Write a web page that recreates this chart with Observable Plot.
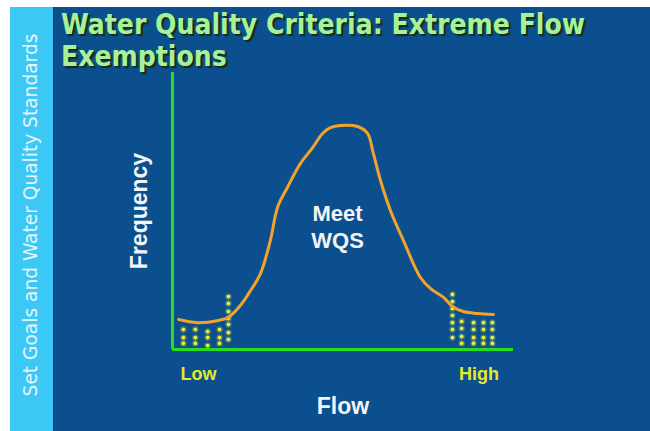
<!DOCTYPE html>
<html>
<head>
<meta charset="utf-8">
<script src="https://cdn.jsdelivr.net/npm/d3@7"></script>
<script src="https://cdn.jsdelivr.net/npm/@observablehq/plot@0.6"></script>
<style>
  html, body { margin: 0; padding: 0; background: #ffffff; }
  #wrap { position: relative; width: 650px; height: 431px; overflow: hidden; background: #ffffff; }
  .strip { position: absolute; left: 10px; top: 7px; width: 43px; height: 424px; background: #3cc8f4; }
  .panel { position: absolute; left: 53px; top: 7px; width: 597px; height: 424px; background: #0b4f8e; border-left: 1px solid #0a3f74; box-sizing: border-box; }
  .stripText { position: absolute; left: 30px; top: 215px; transform: translate(-50%, -50%) rotate(-90deg); white-space: nowrap;
    font-family: "DejaVu Sans", Verdana, sans-serif; font-size: 18.6px; color: #e4f5ff; }
  .title { position: absolute; left: 61px; top: 9px; font-family: "DejaVu Sans Condensed", "DejaVu Sans", sans-serif; font-stretch: condensed;
    font-weight: bold; font-size: 28px; line-height: 32px; color: #a6f29a; text-shadow: 2px 2px 1px #1b2b12; white-space: nowrap; }
  #chart { position: absolute; left: 0; top: 0; }
  #chart svg { background: transparent; }
</style>
</head>
<body>
<div id="wrap">
  <div class="strip"></div>
  <div class="panel"></div>
  <div class="stripText">Set Goals and Water Quality Standards</div>
  <div class="title">Water Quality Criteria: Extreme Flow<br>Exemptions</div>
  <div id="chart"></div>
</div>
<script>
// Axis domains (relative flow and frequency)
const flowDomain = [0, 100];
const freqDomain = [0, 100];

// Frequency distribution curve
const curveFlow = [1.8, 7.3, 13.5, 16.4, 19.9, 22.9, 25.8, 28.7, 30.8, 33.7, 37.5, 41.1, 44.0, 46.3, 49.3, 54.3, 57.2, 58.9, 61.0, 63.9, 67.7, 72.7, 75.7, 79.5, 82.1, 85.3, 89.4, 94.1];
const curveFreq = [10.8, 9.7, 10.5, 11.6, 15.9, 21.3, 27.4, 39.4, 51.3, 58.5, 67.1, 72.9, 78.0, 80.1, 80.9, 80.5, 78.0, 70.8, 61.0, 50.2, 39.4, 26.0, 22.0, 18.8, 15.5, 13.7, 13.0, 12.6];

// Exempted extreme-flow regions (dotted fill)
const dotFlow = [
  3.2, 3.2, 3.2,
  6.7, 6.7, 6.7,
  10.3, 10.3, 10.3,
  13.8, 13.8, 13.8,
  16.4, 16.4, 16.4, 16.4, 16.4, 16.4, 16.4,
  82.1, 82.1, 82.1, 82.1, 82.1, 82.1, 82.1,
  84.8, 84.8, 84.8, 84.8,
  88.3, 88.3, 88.3, 88.3,
  91.2, 91.2, 91.2, 91.2,
  93.8, 93.8, 93.8, 93.8
];
const dotFreq = [
  7.2, 4.3, 2.2,
  7.2, 4.3, 2.2,
  6.5, 4.3, 1.4,
  7.2, 4.3, 2.2,
  19.1, 16.6, 13.7, 11.2, 9.0, 6.1, 3.6,
  19.9, 17.3, 14.8, 12.3, 9.7, 7.2, 4.3,
  10.1, 7.6, 4.7, 2.2,
  9.7, 7.2, 4.3, 2.2,
  9.7, 7.2, 4.3, 2.2,
  9.7, 7.2, 4.3, 2.2
];

// Tick labels on the flow axis
const flowTicks = [7.6, 89.9];
const flowTickLabels = ["Low", "High"];

// Annotation inside the curve
const noteFlow = [48.4];
const noteFreq = [44.6];
const noteText = ["Meet\nWQS"];

const curve = curveFlow.map((x, i) => ({x, y: curveFreq[i]}));
const dots = dotFlow.map((x, i) => ({x, y: dotFreq[i]}));
const notes = noteFlow.map((x, i) => ({x, y: noteFreq[i], t: noteText[i]}));

const green = "#22e020";

const chart = Plot.plot({
  width: 650,
  height: 431,
  marginLeft: 172,
  marginRight: 137,
  marginTop: 72,
  marginBottom: 82,
  style: {background: "transparent", overflow: "visible", fontFamily: "'Liberation Sans', Arial, sans-serif"},
  x: {domain: flowDomain},
  y: {domain: freqDomain},
  marks: [
    Plot.dot(dots, {x: "x", y: "y", r: 3.2, fill: "#e0f040", fillOpacity: 0.3}),
    Plot.dot(dots, {x: "x", y: "y", r: 1.8, fill: "#f2f238"}),
    Plot.line(curve, {x: "x", y: "y", curve: "catmull-rom", stroke: "#f4a32a", strokeWidth: 3, strokeLinecap: "round"}),
    Plot.ruleX([flowDomain[0]], {y1: freqDomain[0], y2: freqDomain[1], stroke: green, strokeWidth: 3}),
    Plot.ruleY([freqDomain[0]], {x1: flowDomain[0], x2: flowDomain[1], stroke: green, strokeWidth: 3}),
    Plot.axisX({ticks: flowTicks, tickFormat: (d, i) => flowTickLabels[i], tickSize: 0, tickPadding: 18,
      fontSize: 18, fontWeight: "bold", fill: "#e8e82a", label: null}),
    Plot.axisX({ticks: [], label: "Flow", labelAnchor: "center", labelArrow: "none", labelOffset: 64,
      fontSize: 23, fontWeight: "bold", fill: "#f2f4f6"}),
    Plot.axisY({ticks: [], label: "Frequency", labelAnchor: "center", labelArrow: "none", labelOffset: 42,
      fontSize: 23, fontWeight: "bold", fill: "#f2f4f6"}),
    Plot.text(notes, {x: "x", y: "y", text: "t", fontSize: 22, fontWeight: "bold", fill: "#f2f4f6", lineHeight: 1.22})
  ]
});
document.getElementById("chart").appendChild(chart);
</script>
</body>
</html>
